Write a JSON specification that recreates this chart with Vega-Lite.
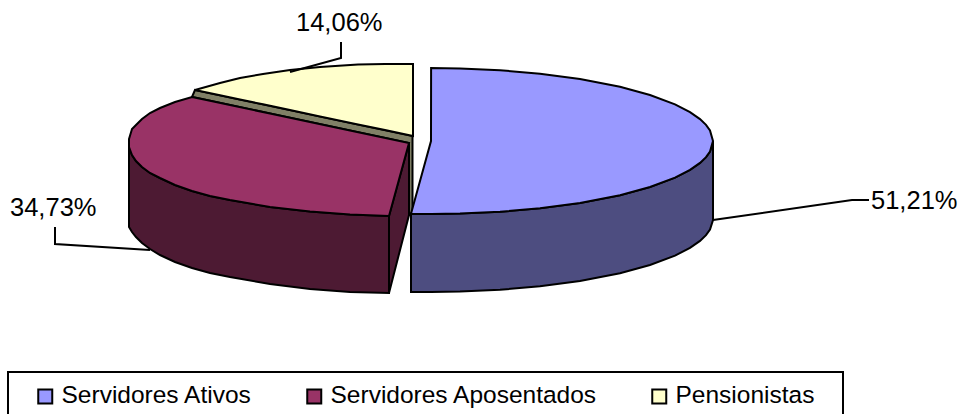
{
"$schema":"https://vega.github.io/schema/vega-lite/v6.json",
"width":960,"height":414,"padding":0,"autosize":"none","background":"white",
"config":{"view":{"stroke":null},"font":"Liberation Sans"},
"encoding":{},
"layer":[
{"data":{"values":[{"x":8,"x2":843,"y":372,"y2":418}]},
 "mark":{"type":"rect","fill":"white","stroke":"black","strokeWidth":2,"clip":true},
 "encoding":{"x":{"field":"x","type":"quantitative","scale":{"domain":[0,960],"nice":false},"axis":null},"x2":{"field":"x2"},"y":{"field":"y","type":"quantitative","scale":{"domain":[414,0],"nice":false},"axis":null},"y2":{"field":"y2"}}},
{"data":{"values":[
{"x":129,"y":147,"y2":227},{"x":132,"y":155,"y2":232},{"x":136,"y":161,"y2":237},{"x":142,"y":167,"y2":243},{"x":150,"y":173,"y2":249},{"x":160,"y":178,"y2":255},{"x":175,"y":185,"y2":262},{"x":192,"y":191,"y2":268},{"x":210,"y":196,"y2":273},{"x":230,"y":200,"y2":277},{"x":270,"y":207,"y2":284},{"x":310,"y":211.5,"y2":289},{"x":350,"y":214.5,"y2":292},{"x":389,"y":216,"y2":293}]},
 "mark":{"type":"area","fill":"#4d1a33","stroke":"black","strokeWidth":2},
 "encoding":{"x":{"field":"x","type":"quantitative","axis":null},"y":{"field":"y","type":"quantitative","axis":null},"y2":{"field":"y2"}}},
{"data":{"values":[{"x":389,"y":216,"y2":293},{"x":409,"y":143,"y2":215}]},
 "mark":{"type":"area","fill":"#4d1a33","stroke":"black","strokeWidth":2},
 "encoding":{"x":{"field":"x","type":"quantitative","axis":null},"y":{"field":"y","type":"quantitative","axis":null},"y2":{"field":"y2"}}},
{"data":{"values":[
{"x":411,"y":213.8,"y2":292},{"x":431,"y":214,"y2":292},{"x":460,"y":213.6,"y2":291.6},{"x":500,"y":211.8,"y2":289.8},{"x":540,"y":208.3,"y2":286.3},{"x":580,"y":203,"y2":281},{"x":620,"y":195.2,"y2":273.2},{"x":650,"y":187,"y2":265},{"x":675,"y":177.6,"y2":255.6},{"x":690,"y":169.9,"y2":247.9},{"x":700,"y":162.9,"y2":240.9},{"x":706,"y":157.2,"y2":235.2},{"x":710,"y":151.6,"y2":229.6},{"x":713,"y":141,"y2":220}]},
 "mark":{"type":"area","fill":"#4d4d80","stroke":"black","strokeWidth":2},
 "encoding":{"x":{"field":"x","type":"quantitative","axis":null},"y":{"field":"y","type":"quantitative","axis":null},"y2":{"field":"y2"}}},
{"data":{"values":[{"x":192,"y":97,"y2":97},{"x":195,"y":90,"y2":97.6},{"x":409,"y":135.2,"y2":143},{"x":409.1,"y":135.2,"y2":215},{"x":412.5,"y":136,"y2":212}]},
 "mark":{"type":"area","fill":"#808066","stroke":"black","strokeWidth":2},
 "encoding":{"x":{"field":"x","type":"quantitative","axis":null},"y":{"field":"y","type":"quantitative","axis":null},"y2":{"field":"y2"}}},
{"data":{"values":[
{"s":"Pensionistas","x":195,"y":90,"y2":90},{"s":"Pensionistas","x":220,"y":83,"y2":95.3},{"s":"Pensionistas","x":240,"y":78,"y2":99.5},{"s":"Pensionistas","x":263,"y":74,"y2":104.3},{"s":"Pensionistas","x":290,"y":70,"y2":110},{"s":"Pensionistas","x":320,"y":67,"y2":116.4},{"s":"Pensionistas","x":358,"y":64.5,"y2":124.4},{"s":"Pensionistas","x":385,"y":64,"y2":130.1},{"s":"Pensionistas","x":413,"y":64,"y2":136},
{"s":"Servidores Aposentados","x":129,"y":139,"y2":147},{"s":"Servidores Aposentados","x":132,"y":129,"y2":155},{"s":"Servidores Aposentados","x":136,"y":125,"y2":161},{"s":"Servidores Aposentados","x":142,"y":119,"y2":167},{"s":"Servidores Aposentados","x":150,"y":113,"y2":173},{"s":"Servidores Aposentados","x":160,"y":108,"y2":178},{"s":"Servidores Aposentados","x":175,"y":102,"y2":185},{"s":"Servidores Aposentados","x":192,"y":97,"y2":191},{"s":"Servidores Aposentados","x":210,"y":100.8,"y2":196},{"s":"Servidores Aposentados","x":230,"y":105.1,"y2":200},{"s":"Servidores Aposentados","x":270,"y":113.5,"y2":207},{"s":"Servidores Aposentados","x":310,"y":122,"y2":211.5},{"s":"Servidores Aposentados","x":350,"y":130.5,"y2":214.5},{"s":"Servidores Aposentados","x":389,"y":138.8,"y2":216},{"s":"Servidores Aposentados","x":409,"y":143,"y2":143},
{"s":"Servidores Ativos","x":411,"y":213.8,"y2":213.8},{"s":"Servidores Ativos","x":431,"y":141,"y2":214},{"s":"Servidores Ativos","x":431.1,"y":68,"y2":214},{"s":"Servidores Ativos","x":460,"y":68.4,"y2":213.6},{"s":"Servidores Ativos","x":500,"y":70.2,"y2":211.8},{"s":"Servidores Ativos","x":540,"y":73.7,"y2":208.3},{"s":"Servidores Ativos","x":580,"y":79,"y2":203},{"s":"Servidores Ativos","x":620,"y":86.8,"y2":195.2},{"s":"Servidores Ativos","x":650,"y":95,"y2":187},{"s":"Servidores Ativos","x":675,"y":104.4,"y2":177.6},{"s":"Servidores Ativos","x":690,"y":112.1,"y2":169.9},{"s":"Servidores Ativos","x":700,"y":119.1,"y2":162.9},{"s":"Servidores Ativos","x":706,"y":124.8,"y2":157.2},{"s":"Servidores Ativos","x":710,"y":130.4,"y2":151.6},{"s":"Servidores Ativos","x":713,"y":141,"y2":141}]},
 "mark":{"type":"area","stroke":"black","strokeWidth":2},
 "encoding":{"x":{"field":"x","type":"quantitative","axis":null},"y":{"field":"y","type":"quantitative","axis":null},"y2":{"field":"y2"},
 "color":{"field":"s","type":"nominal","scale":{"domain":["Servidores Ativos","Servidores Aposentados","Pensionistas"],"range":["#9999ff","#993366","#ffffcc"]},
 "legend":{"title":null,"orient":"none","legendX":33,"legendY":384,"direction":"horizontal","columns":3,"gridAlign":"each","symbolType":"square","symbolSize":196,"symbolStrokeWidth":2,"symbolStrokeColor":"black","symbolOpacity":1,"labelFont":"Liberation Sans","labelFontSize":24.5,"labelColor":"black","labelOffset":4,"columnPadding":49,"padding":0,"zindex":1,"labelLimit":400}}}},
{"data":{"values":[
{"g":"a","o":1,"x":290,"y":72},{"g":"a","o":2,"x":341,"y":58},{"g":"a","o":3,"x":341,"y":42},
{"g":"b","o":1,"x":55,"y":227},{"g":"b","o":2,"x":55,"y":244},{"g":"b","o":3,"x":150,"y":250},
{"g":"c","o":1,"x":713,"y":220},{"g":"c","o":2,"x":852,"y":200},{"g":"c","o":3,"x":869,"y":200}]},
 "mark":{"type":"line","color":"black","strokeWidth":2},
 "encoding":{"x":{"field":"x","type":"quantitative","axis":null},"y":{"field":"y","type":"quantitative","axis":null},"detail":{"field":"g"},"order":{"field":"o","type":"quantitative"}}},
{"data":{"values":[{"t":"14,06%","x":296,"y":23},{"t":"34,73%","x":10,"y":208},{"t":"51,21%","x":871,"y":201}]},
 "mark":{"type":"text","align":"left","baseline":"middle","font":"Liberation Sans","fontSize":25.5,"color":"black"},
 "encoding":{"x":{"field":"x","type":"quantitative","axis":null},"y":{"field":"y","type":"quantitative","axis":null},"text":{"field":"t"}}}
]
}
